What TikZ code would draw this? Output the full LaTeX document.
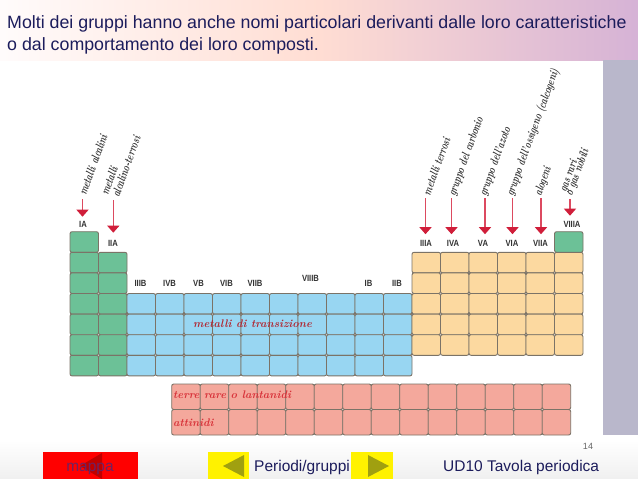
\documentclass[tikz,border=0pt]{standalone}
\usepackage{fontspec}
\usepackage{graphicx}
\newfontfamily\sansf{Liberation Sans}
\usetikzlibrary{arrows.meta}
\definecolor{cgreen}{HTML}{6CC197}
\definecolor{cblue}{HTML}{98D6F2}
\definecolor{cyellow}{HTML}{FCD9A0}
\definecolor{cpink}{HTML}{F4A89C}
\definecolor{cellline}{HTML}{7B7367}
\definecolor{grpcol}{HTML}{333333}
\definecolor{handcol}{HTML}{2E2E2E}
\definecolor{arrline}{HTML}{DC4A60}
\definecolor{arrhead}{HTML}{D01E3A}
\definecolor{navy}{HTML}{1C1C5C}
\definecolor{transred}{HTML}{B02A35}
\definecolor{lanred}{HTML}{D8333A}
\definecolor{olive}{HTML}{A0A010}
\definecolor{mapcol}{HTML}{6E2262}
\definecolor{strip}{HTML}{B9B7CB}
\newcommand\hw[1]{\scalebox{0.7}[1]{#1}}
\newcommand\gl[1]{\scalebox{0.85}[1]{#1}}
\begin{document}
\begin{tikzpicture}[x=1pt,y=-1pt,
  cell/.style={draw=cellline, line width=0.9pt, rounded corners=2pt, minimum width=28.5pt, minimum height=20.6pt, inner sep=0pt, outer sep=0pt},
  lcell/.style={cell, minimum height=25.5pt},
  grp/.style={font=\sansf\bfseries\fontsize{9}{10}\selectfont, text=grpcol, inner sep=0pt},
  hand/.style={font=\bfseries\itshape\fontsize{12}{13}\selectfont, text=handcol, rotate=70, anchor=base west, inner sep=0pt},
  arr/.style={draw=arrline, line width=1.3pt, -{Triangle[width=12pt,length=7pt,color=arrhead]}},
  title/.style={font=\sansf\fontsize{17.8}{21}\selectfont, text=navy, anchor=base west, inner sep=0pt},
  bartext/.style={font=\sansf\fontsize{15.5}{18}\selectfont, anchor=base west, inner sep=0pt},
  script/.style={font=\itshape\bfseries\fontsize{11}{12}\selectfont, inner sep=0pt}]
\useasboundingbox (0,0) rectangle (638,479);
% background
\fill[white] (0,0) rectangle (638,479);
\shade[left color=white!94!pink, right color=black!8!violet!30, middle color=orange!18!pink!45] (0,0) rectangle (638,60);
\fill[strip] (603,60) rectangle (638,435);
\shade[top color=white, bottom color=black!6] (0,440) rectangle (638,479);
% title
\node[title] (t1) at (7,28) {Molti dei gruppi hanno anche nomi particolari derivanti dalle loro caratteristiche};
\node[title] (t2) at (7,50) {o dal comportamento dei loro composti.};
% cells
\foreach \r in {1,...,7} \node[cell,fill=cgreen] (g1-\r) at ({70+0.5*28.5},{231.7+(\r-0.5)*20.6}) {};
\foreach \r in {2,...,7} \node[cell,fill=cgreen] (g2-\r) at ({70+1.5*28.5},{231.7+(\r-0.5)*20.6}) {};
\foreach \c in {3,...,12} \foreach \r in {4,...,7} \node[cell,fill=cblue] (b\c-\r) at ({70+(\c-0.5)*28.5},{231.7+(\r-0.5)*20.6}) {};
\foreach \c in {13,...,18} \foreach \r in {2,...,6} \node[cell,fill=cyellow] (y\c-\r) at ({70+(\c-0.5)*28.5},{231.7+(\r-0.5)*20.6}) {};
\node[cell,fill=cgreen] (g18-1) at ({70+17.5*28.5},{231.7+0.5*20.6}) {};
\foreach \c in {1,...,14} \foreach \r in {1,2} \node[lcell,fill=cpink] (p\c-\r) at ({171.7+(\c-0.5)*28.5},{384+(\r-0.5)*25.5}) {};
% group labels
\node[grp] (lIA) at (83,224) {\gl{IA}};
\node[grp] (lIIA) at (113,243) {\gl{IIA}};
\node[grp] (lIIIB) at (140.5,283.5) {\gl{IIIB}};
\node[grp] (lIVB) at (169.5,283.5) {\gl{IVB}};
\node[grp] (lVB) at (198.5,283.5) {\gl{VB}};
\node[grp] (lVIB) at (226.5,283.5) {\gl{VIB}};
\node[grp] (lVIIB) at (255,283.5) {\gl{VIIB}};
\node[grp] (lVIIIB) at (310.5,278) {\gl{VIIIB}};
\node[grp] (lIB) at (368.5,283.5) {\gl{IB}};
\node[grp] (lIIB) at (397,283.5) {\gl{IIB}};
\node[grp] (lIIIA) at (426,243.5) {\gl{IIIA}};
\node[grp] (lIVA) at (453,243.5) {\gl{IVA}};
\node[grp] (lVA) at (483,243.5) {\gl{VA}};
\node[grp] (lVIA) at (512,243.5) {\gl{VIA}};
\node[grp] (lVIIA) at (540.5,243.5) {\gl{VIIA}};
\node[grp] (lVIIIA) at (572,224) {\gl{VIIIA}};
% arrow tops
\coordinate (aIA) at (82.5,199);
\coordinate (aIIA) at (113.3,200);
\coordinate (aIIIA) at (425.5,198);
\coordinate (aIVA) at (451.5,198);
\coordinate (aVA) at (485,198);
\coordinate (aVIA) at (512.5,198);
\coordinate (aVIIA) at (541,198);
\coordinate (aVIIIA) at (570,199);
\draw[arr, shorten >=4pt] (aIA) -- (aIA |- lIA.north);
\draw[arr, shorten >=7pt] (aIIA) -- (aIIA |- lIIA.north);
\draw[arr, shorten >=6pt] (aIIIA) -- (aIIIA |- lIIIA.north);
\draw[arr, shorten >=6pt] (aIVA) -- (aIVA |- lIVA.north);
\draw[arr, shorten >=6pt] (aVA) -- (aVA |- lVA.north);
\draw[arr, shorten >=6pt] (aVIA) -- (aVIA |- lVIA.north);
\draw[arr, shorten >=6pt] (aVIIA) -- (aVIIA |- lVIIA.north);
\draw[arr, shorten >=5pt] (aVIIIA) -- (aVIIIA |- lVIIIA.north);
% rotated names
\node[hand] (nIA) at (86,196) {\hw{metalli alcalini}};
\node[hand] (nIIAa) at (108,196) {\hw{metalli}};
\node[hand] (nIIAb) at (119,198) {\hw{alcalino-terrosi}};
\node[hand] (nIIIA) at (430,196.5) {\hw{metalli terrosi}};
\node[hand] (nIVA) at (455,196.5) {\hw{gruppo del carbonio}};
\node[hand] (nVA) at (486,196.5) {\hw{gruppo dell'azoto}};
\node[hand] (nVIA) at (513,196.5) {\hw{gruppo dell'ossigeno (calcogeni)}};
\node[hand] (nVIIA) at (541,196.5) {\hw{alogeni}};
\node[hand] (nVIIIAa) at (566,193) {\hw{gas rari}};
\node[hand] (nVIIIAb) at (572,197) {\hw{o gas nobili}};
% inner names
\node[script, text=transred] (trans) at (252.5,324) {metalli di transizione};
\node[script, text=lanred, anchor=west] (lan) at (173,395) {terre rare o lantanidi};
\node[script, text=lanred, anchor=west] (att) at (173,422.5) {attinidi};
% bottom bar
\node[fill=red, minimum width=95pt, minimum height=27pt, inner sep=0pt] (mappa) at (90,465.5) {};
\fill[red!75!black] (80,466) -- (102,453) -- (102,479) -- cycle;
\node[bartext, text=mapcol, anchor=base] (mappat) at (90,471) {mappa};
\node[fill=yellow, minimum width=41pt, minimum height=27pt, inner sep=0pt] (prev) at (228.5,465.5) {};
\fill[olive] (223,466) -- (244,455) -- (244,477) -- cycle;
\node[bartext, text=navy] (per) at (254,471) {Periodi/gruppi};
\node[fill=yellow, minimum width=42pt, minimum height=27pt, inner sep=0pt] (next) at (372,465.5) {};
\fill[olive] (368,455) -- (368,477) -- (389,466) -- cycle;
\node[bartext, text=navy] (ud) at (443,471) {UD10 Tavola periodica};
\node[font=\sansf\fontsize{9}{10}\selectfont, text=black!60, inner sep=0pt] (pg) at (588,446) {14};
\end{tikzpicture}
\end{document}
